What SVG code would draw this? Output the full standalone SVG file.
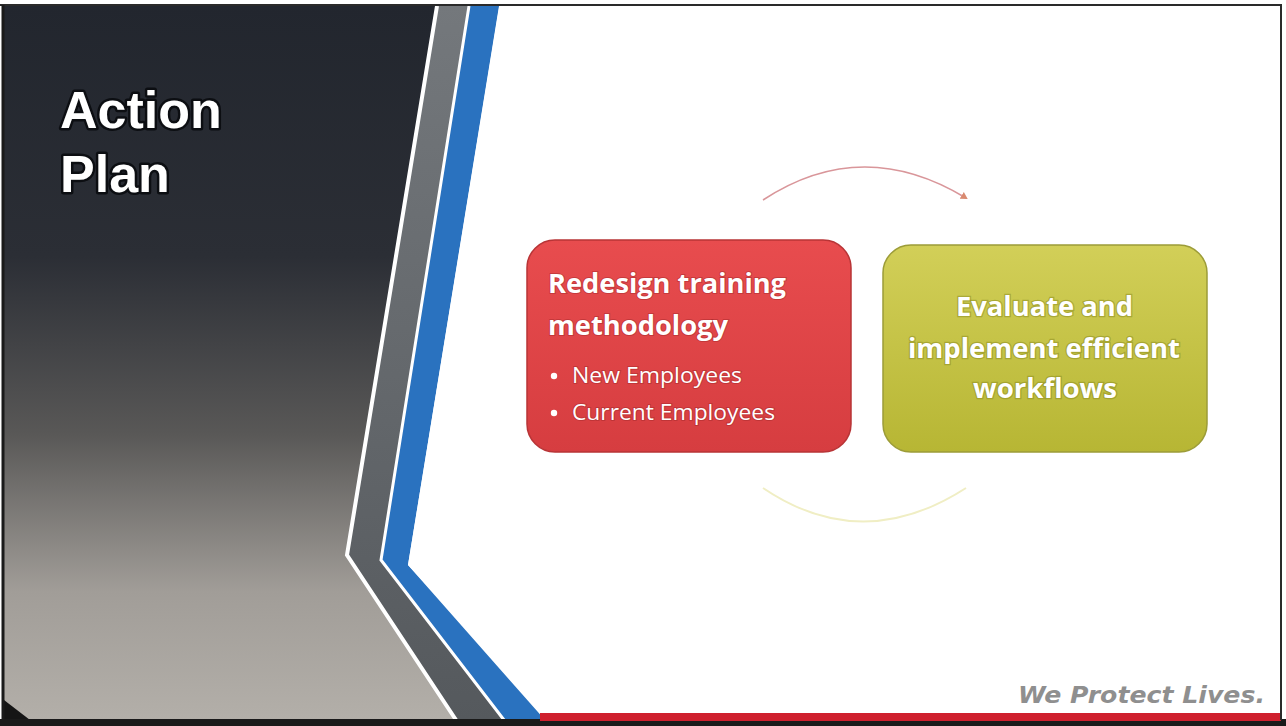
<svg xmlns="http://www.w3.org/2000/svg" width="1286" height="726" viewBox="0 0 1286 726">
  <style>
    .title { font-family: "Liberation Sans", Arial, sans-serif; font-weight: bold; font-size: 52px; fill: #ffffff; stroke: #0c0e12; stroke-width: 5px; paint-order: stroke; stroke-linejoin: round; }
    .boxhead { font-family: "Open Sans", "Noto Sans", sans-serif; font-weight: bold; font-size: 26px; fill: #ffffff; }
    .bullet { font-family: "Open Sans", "Noto Sans", sans-serif; font-size: 21px; fill: #ffffff; }
    .redtxt { stroke: #a0282a; stroke-width: 2px; stroke-opacity: 0.45; paint-order: stroke; }
    .grntxt { stroke: #8a8a20; stroke-width: 2.5px; stroke-opacity: 0.5; paint-order: stroke; }
    .tag { font-family: "DejaVu Sans", "Liberation Sans", sans-serif; font-style: italic; font-weight: bold; font-size: 23px; fill: #8f8f8f; }
  </style>
  <defs>
    <linearGradient id="bgLeft" x1="0" y1="0" x2="0" y2="1">
      <stop offset="0" stop-color="#22262e"/>
      <stop offset="0.35" stop-color="#2b2e35"/>
      <stop offset="0.6" stop-color="#595857"/>
      <stop offset="0.82" stop-color="#a19d98"/>
      <stop offset="1" stop-color="#b3afa9"/>
    </linearGradient>
    <linearGradient id="grayBand" x1="0" y1="0" x2="0" y2="1">
      <stop offset="0" stop-color="#74787c"/>
      <stop offset="1" stop-color="#55595d"/>
    </linearGradient>
    <linearGradient id="redFill" x1="0" y1="0" x2="0" y2="1">
      <stop offset="0" stop-color="#e84c4e"/>
      <stop offset="1" stop-color="#d63d40"/>
    </linearGradient>
    <linearGradient id="grnFill" x1="0" y1="0" x2="0" y2="1">
      <stop offset="0" stop-color="#d2cf58"/>
      <stop offset="1" stop-color="#b7b634"/>
    </linearGradient>
    <marker id="arrowHead" markerWidth="8" markerHeight="8" refX="5" refY="4" orient="auto" markerUnits="userSpaceOnUse">
      <path d="M0,0 L7,4 L0,8 Z" fill="#d98a70"/>
    </marker>
  </defs>

  <!-- page background -->
  <rect x="0" y="0" width="1286" height="726" fill="#ffffff"/>

  <!-- left dark background -->
  <polygon points="4,6 440,6 350,555 458,720 4,720" fill="url(#bgLeft)"/>
  <polygon points="4,700 30,720 4,720" fill="#151515"/>

  <!-- gray band -->
  <polygon points="438,6 470,6 381,560 505,720 456,720 347,555" fill="url(#grayBand)"/>

  <!-- blue band -->
  <polygon points="468,6 499,6 408,565 545,720 503,720 381,560" fill="#2a72bf"/>

  <!-- white lines -->
  <polyline points="437,6 347,555 456,720" fill="none" stroke="#ffffff" stroke-width="4"/>
  <polyline points="469,6 381,560 504,720" fill="none" stroke="#ffffff" stroke-width="3"/>

  <!-- white panel -->
  <polygon points="499,8 1280,8 1280,713 545,713 408,565" fill="#ffffff"/>

  <!-- bottom strip and red bar -->
  <rect x="0" y="719" width="1286" height="7" fill="#1a1a1a"/>
  <rect x="540" y="713" width="741" height="8" fill="#cf1f2e"/>

  <!-- frame lines -->
  <line x1="0" y1="5" x2="1282" y2="5" stroke="#2a2a2a" stroke-width="2"/>
  <line x1="1281" y1="5" x2="1281" y2="720" stroke="#2a2a2a" stroke-width="2"/>
  <line x1="3" y1="5" x2="3" y2="720" stroke="#1a1a1a" stroke-width="3"/>

  <!-- title -->
  <g id="title">
    <text class="title" x="60" y="128">Action</text>
    <text class="title" x="60" y="192">Plan</text>
  </g>

  <!-- connectors -->
  <g id="connectors">
    <path d="M763,200 Q862,135 966,198" fill="none" stroke="#d9969a" stroke-width="1.5" marker-end="url(#arrowHead)"/>
    <path d="M763,488 Q862,555 966,488" fill="none" stroke="#f0eec4" stroke-width="2"/>
  </g>

  <!-- red box -->
  <g id="box-redesign">
    <rect x="527" y="240" width="324" height="212" rx="28" ry="28" fill="url(#redFill)" stroke="#b83436" stroke-width="1.5"/>
    <text class="boxhead redtxt" x="548" y="293" textLength="238" lengthAdjust="spacingAndGlyphs">Redesign training</text>
    <text class="boxhead redtxt" x="548" y="335" textLength="180" lengthAdjust="spacingAndGlyphs">methodology</text>
    <circle cx="554" cy="376" r="3.2" fill="#ffffff"/>
    <text class="bullet redtxt" x="572" y="383" textLength="170" lengthAdjust="spacingAndGlyphs">New Employees</text>
    <circle cx="554" cy="413" r="3.2" fill="#ffffff"/>
    <text class="bullet redtxt" x="572" y="420" textLength="203" lengthAdjust="spacingAndGlyphs">Current Employees</text>
  </g>

  <!-- green box -->
  <g id="box-evaluate">
    <rect x="883" y="245" width="324" height="207" rx="28" ry="28" fill="url(#grnFill)" stroke="#9c9c38" stroke-width="1.5"/>
    <text class="boxhead grntxt" x="956" y="316" textLength="177" lengthAdjust="spacingAndGlyphs">Evaluate and</text>
    <text class="boxhead grntxt" x="908" y="358" textLength="272" lengthAdjust="spacingAndGlyphs">implement efficient</text>
    <text class="boxhead grntxt" x="973" y="398" textLength="144" lengthAdjust="spacingAndGlyphs">workflows</text>
  </g>

  <!-- tagline -->
  <g id="tagline">
    <text class="tag" x="1018" y="703" textLength="247" lengthAdjust="spacingAndGlyphs">We Protect Lives.</text>
  </g>
</svg>
